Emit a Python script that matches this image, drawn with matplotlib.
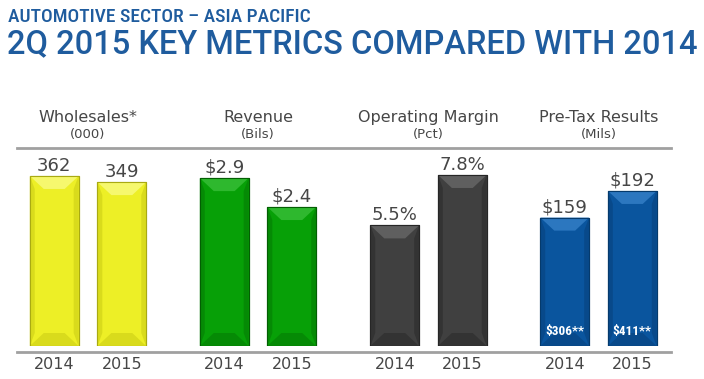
import matplotlib
matplotlib.use("Agg")
import matplotlib.pyplot as plt
from matplotlib.patches import Polygon
from matplotlib.lines import Line2D

# ---------------- data ----------------
years = ["2014", "2015"]
metrics = ["Wholesales*", "Revenue", "Operating Margin", "Pre-Tax Results"]
units = ["(000)", "(Bils)", "(Pct)", "(Mils)"]
wholesales = [362, 349]
revenue = [2.9, 2.4]
op_margin = [5.5, 7.8]
pretax = [159, 192]
wholesales_lbl = ["362", "349"]
revenue_lbl = [r"\$2.9", r"\$2.4"]
op_margin_lbl = ["5.5%", "7.8%"]
pretax_lbl = [r"\$159", r"\$192"]
pretax_inner = [r"\$306**", r"\$411**"]

series = [wholesales, revenue, op_margin, pretax]
labels = [wholesales_lbl, revenue_lbl, op_margin_lbl, pretax_lbl]
ytops = [421.6, 3.42, 9.03, 245.2]
# face, light bevel, dark bevel, edge
palettes = [
    ("#EDEF26", "#F6F86E", "#D9DB1C", "#A9AA12"),
    ("#07A007", "#2EB82E", "#058A05", "#035E03"),
    ("#404040", "#5F5F5F", "#333333", "#262626"),
    ("#0A559E", "#2C77BF", "#08498A", "#053A6C"),
]

W, H = 704, 379
fig = plt.figure(figsize=(W / 100, H / 100), dpi=100)
fig.patch.set_facecolor("white")

title_blue = "#1F5C9E"
txt = "#464646"


def fx(px):
    return px / W


def fy(py):
    return 1 - py / H


fig.text(fx(8), fy(22), "AUTOMOTIVE SECTOR \u2013 ASIA PACIFIC", color=title_blue,
         fontsize=14, family=["Roboto Condensed", "DejaVu Sans"], fontweight="medium",
         va="baseline")
fig.text(fx(7), fy(53), "2Q 2015 KEY METRICS COMPARED WITH 2014", color=title_blue,
         fontsize=23.5, family=["Roboto", "DejaVu Sans"], fontweight="medium", va="baseline")

# separator lines
for py in (148, 352):
    fig.add_artist(Line2D([fx(17), fx(671)], [fy(py), fy(py)], color="#A0A0A0", lw=2))

ax_left = [3.5, 173.5, 344, 514]
ax_w = 169
bot, top = 346, 148
bw = 0.72

for i in range(4):
    ax = fig.add_axes([fx(ax_left[i]), fy(bot), ax_w / W, (bot - top) / H])
    ax.set_xlim(-0.75, 1.75)
    ax.set_ylim(0, ytops[i])
    ax.axis("off")
    face, light, dark, edge = palettes[i]
    bars = ax.bar([0, 1], series[i], width=bw, color=face, edgecolor=edge, lw=0.8, zorder=2)
    ppu = (bot - top) / ytops[i]
    dy = 13 / ppu
    dx = bw * 14 / 49
    for b in bars:
        x0, x1, h = b.get_x(), b.get_x() + b.get_width(), b.get_height()
        ax.add_patch(Polygon([(x0, h), (x1, h), (x1 - dx, h - dy), (x0 + dx, h - dy)],
                             closed=True, color=light, lw=0, zorder=3))
        ax.add_patch(Polygon([(x0, 0), (x1, 0), (x1 - dx, dy), (x0 + dx, dy)],
                             closed=True, color=dark, lw=0, zorder=3))
        ax.add_patch(Polygon([(x0, 0), (x0 + dx * 0.35, dy), (x0 + dx * 0.35, h - dy), (x0, h)],
                             closed=True, color=dark, lw=0, zorder=3))
        ax.add_patch(Polygon([(x1, 0), (x1 - dx * 0.35, dy), (x1 - dx * 0.35, h - dy), (x1, h)],
                             closed=True, color=dark, lw=0, zorder=3))
        ax.add_patch(Polygon([(x0, 0), (x1, 0), (x1, h), (x0, h)], closed=True,
                             fill=False, edgecolor=edge, lw=0.8, zorder=4))
    for j, v in enumerate(series[i]):
        ax.annotate(labels[i][j], (j, v), xytext=(0, 1), textcoords="offset points",
                    ha="center", va="bottom", fontsize=13, color=txt, annotation_clip=False)
    if i == 3:
        for j in range(2):
            ax.annotate(pretax_inner[j], (j, 0), xytext=(0, 6), textcoords="offset points",
                        ha="center", va="bottom", fontsize=9.5, color="white",
                        fontweight="bold", family=["Roboto Condensed", "DejaVu Sans"],
                        zorder=5)
    cx = ax_left[i] + ax_w / 2
    fig.text(fx(cx), fy(122), metrics[i], ha="center", va="baseline", fontsize=11.5, color=txt)
    fig.text(fx(cx), fy(138), units[i], ha="center", va="baseline", fontsize=9.5, color=txt)
    for j in range(2):
        ax.annotate(years[j], (j, 0), xytext=(0, -8), textcoords="offset points",
                    ha="center", va="top", fontsize=11.5, color=txt, annotation_clip=False)

fig.savefig("out.png", dpi=100)
